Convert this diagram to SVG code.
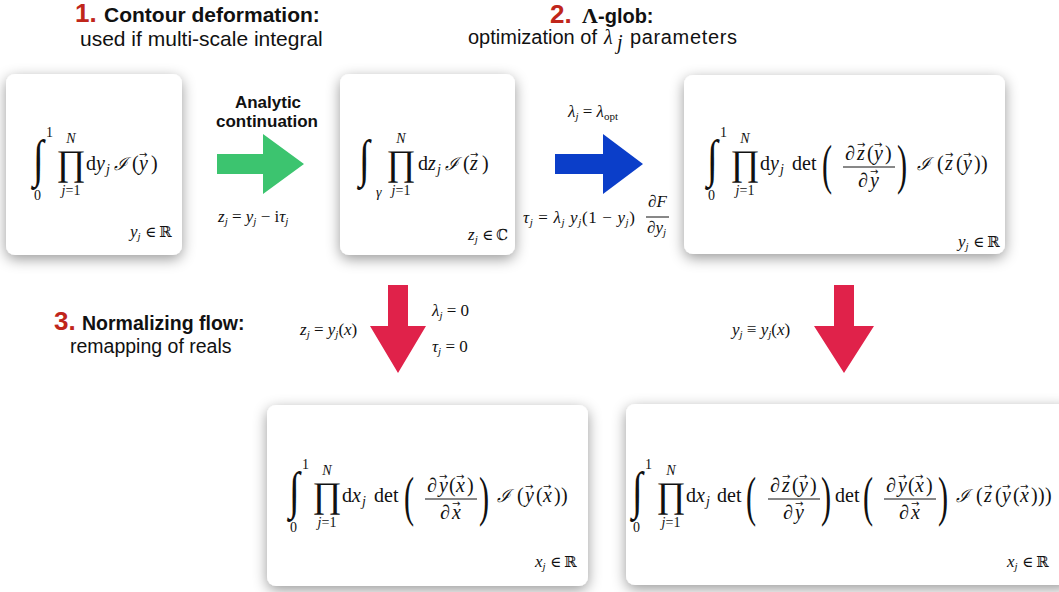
<svg xmlns="http://www.w3.org/2000/svg" width="1059" height="592" viewBox="0 0 1059 592">
<defs>
<filter id="sh" x="-20%" y="-20%" width="140%" height="150%">
<feDropShadow dx="0" dy="4" stdDeviation="7" flood-color="#000" flood-opacity="0.4"/>
</filter>
<style>
.box{fill:#fff;filter:url(#sh)}
.hb{font-family:"Liberation Sans",Arial,sans-serif;font-weight:bold;fill:#111}
.hn{font-family:"Liberation Sans",Arial,sans-serif;fill:#111}
.red{fill:#c0261b}
.m{font-family:"Liberation Serif","DejaVu Serif",serif;font-size:20px;fill:#111}
.l{font-family:"Liberation Serif","DejaVu Serif",serif;font-size:17px;fill:#111}
.i{font-style:italic}
.s{font-size:14px}
.ss{font-size:11px}
.cal{font-family:"DejaVu Serif",serif;font-size:18px;font-style:italic;fill:#111}
.ds{font-family:"DejaVu Serif",serif;font-size:15px;fill:#111}
.vec{font-family:"DejaVu Sans",sans-serif;font-size:10px;fill:#111}
.int{font-family:"Liberation Serif",serif;font-size:52px;fill:#111}
.prod{font-family:"Liberation Serif",serif;font-size:36px;fill:#111}
.bp{font-family:"Liberation Serif",serif;font-size:55px;fill:#111}
.fl{stroke:#111;stroke-width:1}
</style>
</defs>
<rect width="1059" height="592" fill="#fff"/>

<g id="headers">
<text class="hb red" x="75" y="22" font-size="26">1.</text>
<text class="hb" x="104" y="22" font-size="21">Contour deformation:</text>
<text class="hn" x="80" y="46" font-size="21">used if multi-scale integral</text>
<text class="hb red" x="550" y="23" font-size="26">2.</text>
<text x="582" y="23" font-family="Liberation Serif,serif" font-weight="bold" font-size="22" fill="#111">Λ</text>
<text class="hb" x="598" y="23" font-size="20">-glob:</text>
<text class="hn" x="468" y="44" font-size="20">optimization of</text>
<text class="m i" x="604" y="44" font-size="24">λ</text>
<text class="m i" x="617" y="49" font-size="14">j</text>
<text class="hn" x="630" y="44" font-size="20" textLength="107">parameters</text>
<text class="hb red" x="54" y="330" font-size="26">3.</text>
<text class="hb" x="82" y="330" font-size="19.5">Normalizing flow:</text>
<text class="hn" x="70" y="353" font-size="19.5">remapping of reals</text>
</g>

<g id="node-1">
<rect class="box" x="6" y="74" width="176" height="181" rx="9"/>
<text class="int" transform="translate(33,176) scale(0.75,1)">∫</text>
<text class="m s" x="46" y="137">1</text>
<text class="m s" x="34" y="200">0</text>
<text class="m s i" x="71" y="143" text-anchor="middle">N</text>
<text class="prod" x="71" y="175" text-anchor="middle">∏</text>
<text class="m s" x="71" y="195" text-anchor="middle"><tspan class="i">j</tspan>=1</text>
<text class="m" x="86" y="170">d</text>
<text class="m i" x="96" y="170">y</text>
<text class="m i s" x="106" y="174">j</text>
<text class="cal" x="114" y="170">ℐ</text>
<text class="m" x="132" y="170">(</text>
<text class="m i" x="139" y="170">y</text>
<text class="vec" x="139" y="158">→</text>
<text class="m" x="151" y="170">)</text>
<text class="l i" x="130" y="237">y<tspan class="ss" dy="3">j</tspan></text>
<text class="ds" x="145" y="237">∈</text>
<text class="ds" x="159" y="237">ℝ</text>
</g>

<g id="node-2">
<rect class="box" x="340" y="74" width="175" height="181" rx="9"/>
<text class="int" transform="translate(359,176) scale(0.75,1)">∫</text>
<text class="m s i" x="376" y="197">γ</text>
<text class="m s i" x="401" y="143" text-anchor="middle">N</text>
<text class="prod" x="401" y="175" text-anchor="middle">∏</text>
<text class="m s" x="401" y="195" text-anchor="middle"><tspan class="i">j</tspan>=1</text>
<text class="m" x="418" y="170">d</text>
<text class="m i" x="428" y="170">z</text>
<text class="m i s" x="437" y="174">j</text>
<text class="cal" x="445" y="170">ℐ</text>
<text class="m" x="463" y="170">(</text>
<text class="m i" x="470" y="170">z</text>
<text class="vec" x="470" y="158">→</text>
<text class="m" x="482" y="170">)</text>
<text class="l i" x="468" y="240">z<tspan class="ss" dy="3">j</tspan></text>
<text class="ds" x="482" y="240">∈</text>
<text class="ds" x="496" y="240">ℂ</text>
</g>

<g id="node-3">
<rect class="box" x="684" y="75" width="321" height="179" rx="9"/>
<text class="int" transform="translate(707,176) scale(0.75,1)">∫</text>
<text class="m s" x="720" y="137">1</text>
<text class="m s" x="708" y="200">0</text>
<text class="m s i" x="745" y="143" text-anchor="middle">N</text>
<text class="prod" x="745" y="175" text-anchor="middle">∏</text>
<text class="m s" x="745" y="195" text-anchor="middle"><tspan class="i">j</tspan>=1</text>
<text class="m" x="760" y="170">d</text>
<text class="m i" x="770" y="170">y</text>
<text class="m i s" x="780" y="174">j</text>
<text class="m" x="792" y="170">det</text>
<text class="bp" transform="translate(822,183) scale(0.55,1)">(</text>
<text class="m" x="845" y="160">∂</text>
<text class="m i" x="857" y="160">z</text>
<text class="vec" x="857" y="148">→</text>
<text class="m" x="867" y="160">(</text>
<text class="m i" x="874" y="160">y</text>
<text class="vec" x="874" y="148">→</text>
<text class="m" x="885" y="160">)</text>
<line class="fl" x1="843" y1="167" x2="895" y2="167"/>
<text class="m" x="858" y="187">∂</text>
<text class="m i" x="870" y="187">y</text>
<text class="vec" x="870" y="175">→</text>
<text class="bp" transform="translate(897,183) scale(0.55,1)">)</text>
<text class="cal" x="917" y="170">ℐ</text>
<text class="m" x="937" y="170">(</text>
<text class="m i" x="945" y="170">z</text>
<text class="vec" x="945" y="158">→</text>
<text class="m" x="956" y="170">(</text>
<text class="m i" x="963" y="170">y</text>
<text class="vec" x="963" y="158">→</text>
<text class="m" x="974" y="170">)</text>
<text class="m" x="981" y="170">)</text>
<text class="l i" x="958" y="247">y<tspan class="ss" dy="3">j</tspan></text>
<text class="ds" x="973" y="247">∈</text>
<text class="ds" x="987" y="247">ℝ</text>
</g>

<g id="node-4">
<rect class="box" x="267" y="405" width="321" height="181" rx="9"/>
<text class="int" transform="translate(289,508) scale(0.75,1)">∫</text>
<text class="m s" x="302" y="469">1</text>
<text class="m s" x="290" y="532">0</text>
<text class="m s i" x="327" y="475" text-anchor="middle">N</text>
<text class="prod" x="327" y="507" text-anchor="middle">∏</text>
<text class="m s" x="327" y="527" text-anchor="middle"><tspan class="i">j</tspan>=1</text>
<text class="m" x="342" y="502">d</text>
<text class="m i" x="352" y="502">x</text>
<text class="m i s" x="362" y="506">j</text>
<text class="m" x="374" y="502">det</text>
<text class="bp" transform="translate(404,515) scale(0.55,1)">(</text>
<text class="m" x="427" y="492">∂</text>
<text class="m i" x="439" y="492">y</text>
<text class="vec" x="439" y="480">→</text>
<text class="m" x="449" y="492">(</text>
<text class="m i" x="456" y="492">x</text>
<text class="vec" x="456" y="480">→</text>
<text class="m" x="467" y="492">)</text>
<line class="fl" x1="425" y1="499" x2="477" y2="499"/>
<text class="m" x="440" y="519">∂</text>
<text class="m i" x="452" y="519">x</text>
<text class="vec" x="452" y="507">→</text>
<text class="bp" transform="translate(479,515) scale(0.55,1)">)</text>
<text class="cal" x="497" y="502">ℐ</text>
<text class="m" x="517" y="502">(</text>
<text class="m i" x="525" y="502">y</text>
<text class="vec" x="525" y="490">→</text>
<text class="m" x="536" y="502">(</text>
<text class="m i" x="543" y="502">x</text>
<text class="vec" x="543" y="490">→</text>
<text class="m" x="554" y="502">)</text>
<text class="m" x="561" y="502">)</text>
<text class="l i" x="535" y="567">x<tspan class="ss" dy="3">j</tspan></text>
<text class="ds" x="550" y="567">∈</text>
<text class="ds" x="564" y="567">ℝ</text>
</g>

<g id="node-5">
<rect class="box" x="626" y="404" width="445" height="181" rx="9"/>
<text class="int" transform="translate(632,508) scale(0.75,1)">∫</text>
<text class="m s" x="645" y="469">1</text>
<text class="m s" x="633" y="532">0</text>
<text class="m s i" x="671" y="475" text-anchor="middle">N</text>
<text class="prod" x="671" y="507" text-anchor="middle">∏</text>
<text class="m s" x="671" y="527" text-anchor="middle"><tspan class="i">j</tspan>=1</text>
<text class="m" x="686" y="502">d</text>
<text class="m i" x="696" y="502">x</text>
<text class="m i s" x="706" y="506">j</text>
<text class="m" x="717" y="502">det</text>
<text class="bp" transform="translate(746,515) scale(0.55,1)">(</text>
<text class="m" x="770" y="492">∂</text>
<text class="m i" x="782" y="492">z</text>
<text class="vec" x="782" y="480">→</text>
<text class="m" x="792" y="492">(</text>
<text class="m i" x="799" y="492">y</text>
<text class="vec" x="799" y="480">→</text>
<text class="m" x="810" y="492">)</text>
<line class="fl" x1="768" y1="499" x2="820" y2="499"/>
<text class="m" x="783" y="519">∂</text>
<text class="m i" x="795" y="519">y</text>
<text class="vec" x="795" y="507">→</text>
<text class="bp" transform="translate(821,515) scale(0.55,1)">)</text>
<text class="m" x="835" y="502">det</text>
<text class="bp" transform="translate(863,515) scale(0.55,1)">(</text>
<text class="m" x="886" y="492">∂</text>
<text class="m i" x="898" y="492">y</text>
<text class="vec" x="898" y="480">→</text>
<text class="m" x="908" y="492">(</text>
<text class="m i" x="915" y="492">x</text>
<text class="vec" x="915" y="480">→</text>
<text class="m" x="926" y="492">)</text>
<line class="fl" x1="884" y1="499" x2="936" y2="499"/>
<text class="m" x="899" y="519">∂</text>
<text class="m i" x="911" y="519">x</text>
<text class="vec" x="911" y="507">→</text>
<text class="bp" transform="translate(938,515) scale(0.55,1)">)</text>
<text class="cal" x="956" y="502">ℐ</text>
<text class="m" x="976" y="502">(</text>
<text class="m i" x="984" y="502">z</text>
<text class="vec" x="984" y="490">→</text>
<text class="m" x="995" y="502">(</text>
<text class="m i" x="1002" y="502">y</text>
<text class="vec" x="1002" y="490">→</text>
<text class="m" x="1013" y="502">(</text>
<text class="m i" x="1020" y="502">x</text>
<text class="vec" x="1020" y="490">→</text>
<text class="m" x="1031" y="502">)</text>
<text class="m" x="1038" y="502">)</text>
<text class="m" x="1045" y="502">)</text>
<text class="l i" x="1007" y="567">x<tspan class="ss" dy="3">j</tspan></text>
<text class="ds" x="1022" y="567">∈</text>
<text class="ds" x="1036" y="567">ℝ</text>
</g>

<g id="connectors">
<polygon points="217,154 263,154 263,134 304,164 263,194 263,174 217,174" fill="#3cc46f"/>
<text class="hb" x="268" y="108" font-size="17" text-anchor="middle">Analytic</text>
<text class="hb" x="267" y="127" font-size="17" text-anchor="middle">continuation</text>
<text class="l" x="218" y="222"><tspan class="i">z</tspan><tspan class="i ss" dy="3">j</tspan><tspan dy="-3"> = </tspan><tspan class="i">y</tspan><tspan class="i ss" dy="3">j</tspan><tspan dy="-3"> − i</tspan><tspan class="i">τ</tspan><tspan class="i ss" dy="3">j</tspan></text>

<polygon points="555,154 603,154 603,134 643,164 603,194 603,174 555,174" fill="#0b3ec9"/>
<text class="l" x="568" y="117" font-size="18"><tspan class="i">λ</tspan><tspan class="i ss" dy="3">j</tspan><tspan dy="-3"> = </tspan><tspan class="i">λ</tspan><tspan class="ss" dy="3">opt</tspan></text>
<text class="l" x="523" y="223" textLength="112"><tspan class="i">τ</tspan><tspan class="i ss" dy="3">j</tspan><tspan dy="-3"> = </tspan><tspan class="i">λ</tspan><tspan class="i ss" dy="3">j</tspan><tspan class="i" dy="-3"> y</tspan><tspan class="i ss" dy="3">j</tspan><tspan dy="-3">(1 − </tspan><tspan class="i">y</tspan><tspan class="i ss" dy="3">j</tspan><tspan dy="-3">)</tspan></text>
<text class="l" x="648" y="207">∂<tspan class="i">F</tspan></text>
<line class="fl" x1="646" y1="217" x2="669" y2="217"/>
<text class="l" x="647" y="233">∂<tspan class="i">y</tspan><tspan class="i ss" dy="3">j</tspan></text>

<polygon points="388,285 408,285 408,326 426,326 398,373 370,326 388,326" fill="#e0224a"/>
<text class="l" x="300" y="335"><tspan class="i">z</tspan><tspan class="i ss" dy="3">j</tspan><tspan dy="-3"> = </tspan><tspan class="i">y</tspan><tspan class="i ss" dy="3">j</tspan><tspan dy="-3">(</tspan><tspan class="i">x</tspan>)</text>
<text class="l" x="432" y="316"><tspan class="i">λ</tspan><tspan class="i ss" dy="3">j</tspan><tspan dy="-3"> = 0</tspan></text>
<text class="l" x="432" y="352"><tspan class="i">τ</tspan><tspan class="i ss" dy="3">j</tspan><tspan dy="-3"> = 0</tspan></text>

<polygon points="834,285 854,285 854,326 874,326 844,373 814,326 834,326" fill="#e0224a"/>
<text class="l" x="732" y="335"><tspan class="i">y</tspan><tspan class="i ss" dy="3">j</tspan><tspan dy="-3"> ≡ </tspan><tspan class="i">y</tspan><tspan class="i ss" dy="3">j</tspan><tspan dy="-3">(</tspan><tspan class="i">x</tspan>)</text>
</g>
</svg>
